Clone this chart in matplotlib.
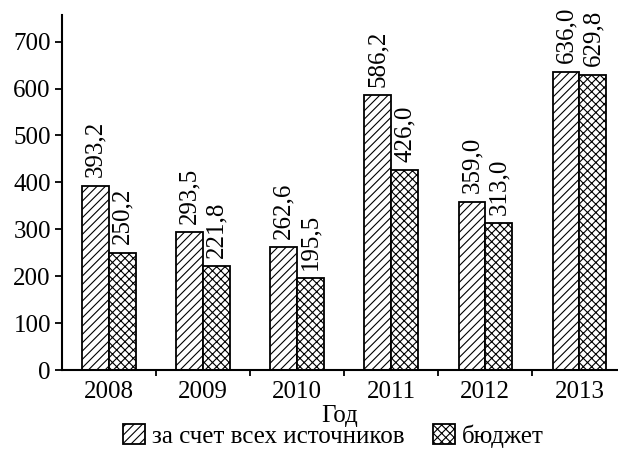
import matplotlib
matplotlib.use("Agg")
import matplotlib.pyplot as plt
import numpy as np
from matplotlib.ticker import FixedLocator, NullFormatter

years = ["2008", "2009", "2010", "2011", "2012", "2013"]
all_sources = [393.2, 293.5, 262.6, 586.2, 359.0, 636.0]
budget = [250.2, 221.8, 195.5, 426.0, 313.0, 629.8]
series_names = ["за счет всех источников", "бюджет"]
yticks = [0, 100, 200, 300, 400, 500, 600, 700]

plt.rcParams['font.family'] = ['Liberation Serif', 'DejaVu Serif']
plt.rcParams['hatch.linewidth'] = 0.8
FS = 18

fig = plt.figure(figsize=(6.18, 4.67), dpi=100)
ax = fig.add_axes([0.1003, 0.2077, 0.8997, 0.7603])

x = np.arange(len(years))
w = 0.285
b1 = ax.bar(x - w/2, all_sources, w, facecolor='white', edgecolor='black',
            linewidth=1.3, hatch='////', label=series_names[0])
b2 = ax.bar(x + w/2, budget, w, facecolor='white', edgecolor='black',
            linewidth=1.3, hatch='xxxx', label=series_names[1])

for bars, vals in ((b1, all_sources), (b2, budget)):
    for rect, v in zip(bars, vals):
        ax.annotate(f"{v:.1f}".replace('.', ','),
                    (rect.get_x() + rect.get_width()/2, rect.get_height()),
                    xytext=(0, 6), textcoords='offset points',
                    rotation=90, ha='center', va='bottom', fontsize=FS)

ax.set_xlim(-0.5, 5.41)
ax.set_ylim(0, 757)
ax.set_yticks(yticks)
ax.set_xticks(x)
ax.set_xticklabels(years)
ax.xaxis.set_minor_locator(FixedLocator(x[:-1] + 0.5))
ax.xaxis.set_minor_formatter(NullFormatter())
ax.tick_params(axis='x', which='major', length=0, labelsize=FS, pad=8)
ax.tick_params(axis='x', which='minor', length=4.5, width=1.3, direction='out')
ax.tick_params(axis='y', length=5, width=1.3, direction='out', labelsize=FS, pad=3)

for s in ('top', 'right'):
    ax.spines[s].set_visible(False)
for s in ('left', 'bottom'):
    ax.spines[s].set_linewidth(1.5)

ax.set_xlabel("Год", fontsize=FS, labelpad=1)

fig.legend(handles=[b1, b2], loc='center', bbox_to_anchor=(0.54, 0.066),
           ncol=2, frameon=False, fontsize=FS, handlelength=0.85,
           handleheight=0.85, handletextpad=0.3, columnspacing=1.15)

fig.savefig("out.png", dpi=100)
